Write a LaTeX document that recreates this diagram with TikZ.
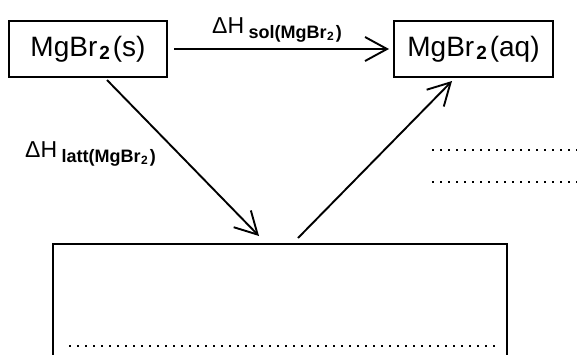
\documentclass[tikz,border=0pt]{standalone}
\usepackage{fontspec}
\setmainfont{Liberation Sans}
\usetikzlibrary{arrows.meta}
\newcommand{\boxtwo}{\hspace{2pt}\raisebox{-3pt}{\fontsize{19}{19}\selectfont\bfseries 2}\hspace{3pt}}
\newcommand{\subtwo}{\hspace{0.5pt}\raisebox{-2pt}{\fontsize{12}{12}\selectfont\bfseries 2}\hspace{2pt}}
\newcommand{\dHsub}[1]{{\fontsize{23}{26}\selectfont ΔH}\hspace{4.5pt}\raisebox{-5.5pt}{\fontsize{18}{18}\selectfont\bfseries #1}}
\begin{document}
\begin{tikzpicture}[x=1pt,y=-1pt,
  chembox/.style={draw,line width=2pt,minimum height=56pt,inner sep=0pt,font=\fontsize{28}{30}\selectfont},
  conn/.style={line width=1.9pt,-{Straight Barb[length=22pt,width=24pt,line width=1.9pt]}},
  dotline/.style={line width=2pt,dash pattern=on 1.8pt off 6.2pt}]
\useasboundingbox (0,0) rectangle (577,354);
\clip (0,0) rectangle (577,354);
\node[chembox,minimum width=158pt] (s) at (88,49) {MgBr\boxtwo(s)};
\node[chembox,minimum width=159pt] (aq) at (473.5,49) {MgBr\boxtwo(aq)};
\node[draw,line width=2pt,minimum width=454pt,minimum height=136pt,inner sep=0pt] (ions) at (280,312) {};
\node[anchor=base west,inner sep=0pt] (lsol) at (212,33) {\dHsub{sol(MgBr\subtwo)}};
\node[anchor=base west,inner sep=0pt] (llatt) at (25,157) {\dHsub{latt(MgBr\subtwo)}};
\coordinate (d1s) at (107,80);
\coordinate (d1e) at (259,236);
\coordinate (d2s) at (298,238);
\coordinate (d2e) at (452,81);
\draw[conn,shorten <=6pt,shorten >=4pt] (s.east) -- (aq.west);
\draw[conn] (d1s) -- (d1e);
\draw[conn] (d2s) -- (d2e);
\coordinate (r1a) at (432,150);
\coordinate (r1b) at (578,150);
\coordinate (r2a) at (432,182);
\coordinate (r2b) at (578,182);
\coordinate (b1a) at (69,346);
\coordinate (b1b) at (496,346);
\draw[dotline] (r1a) -- (r1b);
\draw[dotline] (r2a) -- (r2b);
\draw[dotline] (b1a) -- (b1b);
\end{tikzpicture}
\end{document}
